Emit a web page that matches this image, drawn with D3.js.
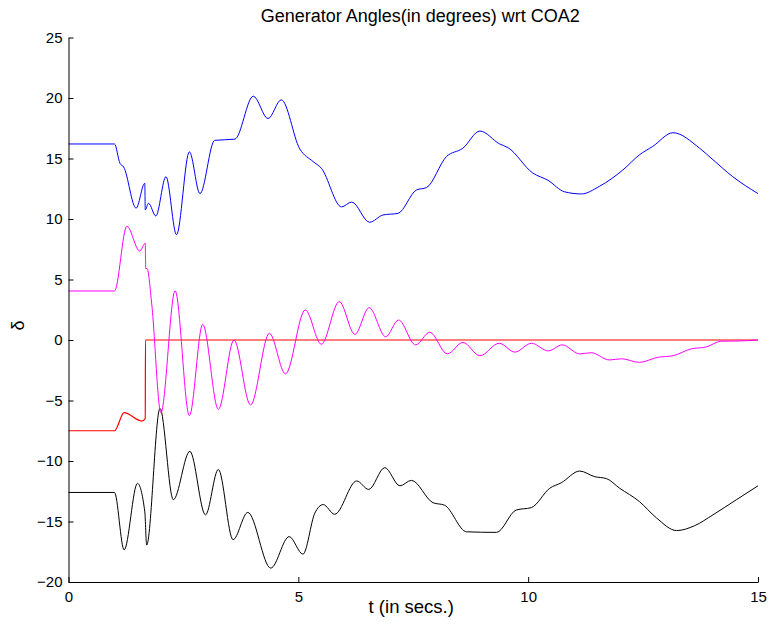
<!DOCTYPE html>
<html>
<head>
<meta charset="utf-8">
<script src="https://cdn.jsdelivr.net/npm/d3@7"></script>
<style>
  body { margin: 0; background: #fff; }
  text { font-family: "Liberation Sans", Arial, sans-serif; }
</style>
</head>
<body>
<div id="chart"></div>
<script>
// generator angle traces, [t, delta]
const blueSeries = [
  [0, 16.2], [1.0, 16.2], [1.12, 14.6], [1.2, 14.3], [1.47, 10.9], [1.66, 12.95], [1.67, 10.75],
  [1.74, 11.3], [1.9, 10.25], [2.12, 13.5], [2.35, 8.7], [2.63, 15.55], [2.86, 12.1],
  [3.18, 16.5], [3.62, 16.6], [4.02, 20.15], [4.34, 18.3], [4.63, 19.85], [5.03, 15.8],
  [5.32, 14.75], [5.5, 14.2], [5.94, 11.0], [6.16, 11.4], [6.55, 9.73], [6.84, 10.33],
  [7.17, 10.47], [7.57, 12.4], [7.79, 12.6], [8.22, 15.15], [8.58, 15.85], [8.95, 17.27],
  [9.38, 16.2], [9.56, 15.9], [10.1, 13.8], [10.43, 13.2], [10.79, 12.25], [11.16, 12.07],
  [11.55, 12.7], [12.06, 14.05], [12.42, 15.3], [12.71, 16.0], [13.15, 17.13], [13.73, 15.85],
  [14.02, 14.9], [14.45, 13.5], [15, 12.1]
];
const magentaSeries = [
  [0, 4.05], [1.0, 4.05], [1.27, 9.4], [1.55, 7.35], [1.67, 8.0], [1.68, 5.9], [1.71, 5.9],
  [1.81, 3.0], [2.01, -6.0], [2.32, 4.07], [2.63, -6.25], [2.92, 1.3], [3.26, -5.73],
  [3.6, 0.0], [3.96, -5.37], [4.37, 0.55], [4.72, -2.8], [5.15, 2.48], [5.5, -0.35],
  [5.89, 3.17], [6.23, 0.47], [6.54, 2.67], [6.9, 0.27], [7.18, 1.65], [7.55, -0.4],
  [7.86, 0.64], [8.24, -1.15], [8.58, -0.2], [8.95, -1.3], [9.37, -0.27], [9.71, -1.0],
  [10.07, -0.27], [10.44, -0.9], [10.74, -0.4], [11.12, -1.15], [11.37, -1.05], [11.77, -1.65],
  [12.03, -1.55], [12.42, -1.85], [12.82, -1.43], [13.15, -1.3], [13.55, -0.73], [13.87, -0.58],
  [14.2, -0.1], [14.6, -0.08], [15, 0.0]
];
const redSeries = [
  [0, -7.5], [1.0, -7.5], [1.21, -6.0], [1.59, -6.7], [1.67, -6.5], [1.675, 0], [15, 0]
];
const blackSeries = [
  [0, -12.6], [1.0, -12.6], [1.21, -17.35], [1.5, -11.85], [1.66, -14.2], [1.7, -16.95],
  [1.99, -5.65], [2.28, -13.2], [2.64, -9.2], [2.98, -14.45], [3.26, -10.7], [3.58, -16.5],
  [3.9, -14.25], [4.4, -18.85], [4.8, -16.25], [5.1, -17.7], [5.36, -14.3], [5.54, -13.6],
  [5.79, -14.4], [6.27, -11.65], [6.53, -12.35], [6.88, -10.55], [7.21, -12.05], [7.46, -11.6],
  [7.93, -13.45], [8.18, -13.65], [8.66, -15.85], [9.31, -15.9], [9.74, -14.05], [10.07, -13.85],
  [10.47, -12.25], [10.72, -11.8], [11.12, -10.83], [11.45, -11.3], [11.7, -11.45],
  [11.99, -12.25], [12.42, -13.35], [12.79, -14.7], [13.23, -15.75], [13.62, -15.35],
  [14.02, -14.45], [14.53, -13.2], [15, -12.05]
];
const xTicks = [0, 5, 10, 15];
const yTicks = [-20, -15, -10, -5, 0, 5, 10, 15, 20, 25];

const width = 771, height = 629;
const margin = { top: 37.5, right: 13, bottom: 47, left: 68.5 };

const svg = d3.select('#chart')
  .append('svg')
  .attr('width', width)
  .attr('height', height);

const x = d3.scaleLinear().domain([0, 15]).range([margin.left, width - margin.right]);
const y = d3.scaleLinear().domain([-20, 25]).range([height - margin.bottom, margin.top]);

const line = d3.line()
  .x((d) => x(d[0]))
  .y((d) => y(d[1]))
  .curve(d3.curveMonotoneX);

// traces
const traces = [
  { data: redSeries, color: '#ff0000', w: 1.2 },
  { data: blackSeries, color: '#000000', w: 1 },
  { data: magentaSeries, color: '#ff00ff', w: 1 },
  { data: blueSeries, color: '#0000ff', w: 1 }
];
traces.forEach((s) => {
  svg.append('path')
    .datum(s.data)
    .attr('fill', 'none')
    .attr('stroke', s.color)
    .attr('stroke-width', s.w)
    .attr('d', line);
});

// axes (ticks inside, matlab style)
const xAxis = svg.append('g')
  .attr('transform', `translate(0,${y(-20)})`)
  .call(d3.axisBottom(x).tickValues(xTicks).tickSizeInner(-5).tickSizeOuter(0).tickPadding(9));
const yAxis = svg.append('g')
  .attr('transform', `translate(${x(0)},0)`)
  .call(d3.axisLeft(y).tickValues(yTicks).tickSizeInner(-5).tickSizeOuter(0).tickPadding(6)
    .tickFormat((d) => d < 0 ? '\u2212' + Math.abs(d) : d));

[xAxis, yAxis].forEach((g) => {
  g.select('.domain').attr('stroke', '#000');
  g.selectAll('line').attr('stroke', '#000');
  g.selectAll('text')
    .attr('fill', '#000')
    .style('font-size', '15px')
    .style('font-family', '"Liberation Sans", Arial, sans-serif');
});

// titles
svg.append('text')
  .attr('x', (x(0) + x(15)) / 2 + 7)
  .attr('y', 22)
  .attr('text-anchor', 'middle')
  .style('font-size', '18px')
  .text('Generator Angles(in degrees) wrt COA2');

svg.append('text')
  .attr('x', (x(0) + x(15)) / 2 - 2)
  .attr('y', 613)
  .attr('text-anchor', 'middle')
  .style('font-size', '18.5px')
  .text('t (in secs.)');

svg.append('text')
  .attr('transform', `translate(24,${y(1.2)}) rotate(-90)`)
  .attr('text-anchor', 'middle')
  .style('font-size', '18px')
  .text('δ');
</script>
</body>
</html>
